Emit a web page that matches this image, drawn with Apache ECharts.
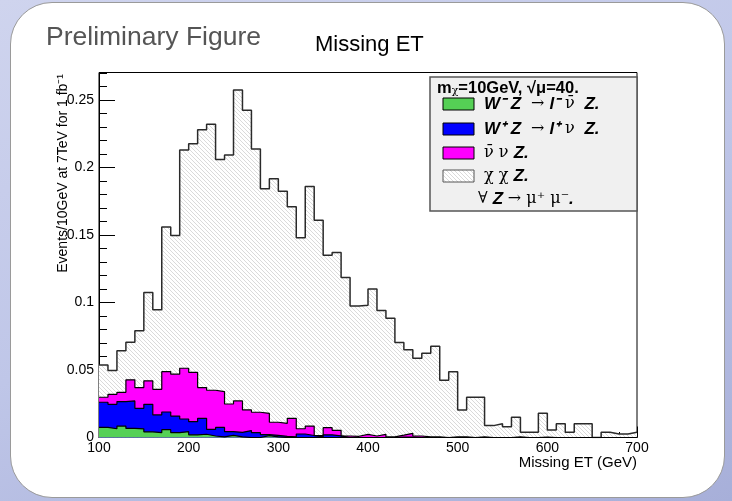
<!DOCTYPE html>
<html>
<head>
<meta charset="utf-8">
<script src="https://cdn.jsdelivr.net/npm/echarts@6/dist/echarts.min.js"></script>
<style>
html,body{margin:0;padding:0;}
#bg{position:absolute;left:0;top:0;width:732px;height:501px;background:linear-gradient(160deg,#cfd4ee 0%,#bfc6e8 50%,#a7afd9 100%);overflow:hidden;}
#panel{position:absolute;left:10px;top:2px;width:713px;height:494px;background:#fff;border:1px solid #9a9a9a;border-radius:42px;}
#chart{position:absolute;left:0;top:0;width:732px;height:501px;}
</style>
</head>
<body>
<div id="bg"><div id="panel"></div><div id="chart"></div></div>
<script>
// ---- data (events per 10 GeV bin, bins from 100 to 700 GeV) ----
const binLow = 100, binWidth = 10, nBins = 60;
const yTicks = [0, 0.05, 0.1, 0.15, 0.2, 0.25];
const xTicks = [100, 200, 300, 400, 500, 600, 700];

// W- Z -> l- nubar Z  (green)
const wmZ = [0.0075,0.0065,0.0085,0.0067,0.0064,0.0042,0.0036,0.0058,0.0036,0.0043,
             0.0020,0.0024,0.0011,0.0004,0.0016,0.0004,0,0,0.0014,0.0004,
             0,0,0,0,0,0,0,0,0,0, 0,0,0,0,0,0,0,0,0,0,
             0,0,0,0,0,0,0,0,0,0, 0,0,0,0,0,0,0,0,0,0];
// W+ Z -> l+ nu Z  (blue)
const wpZ = [0.0186,0.0181,0.0181,0.0204,0.0152,0.0204,0.0131,0.0131,0.0123,0.0094,
             0.0097,0.0118,0.0049,0.0071,0.0027,0.0034,0.0051,0.0036,0.0007,0.0012,
             0.0009,0.0004,0.0026,0.0015,0.0005,0.0020,0.0012,0,0,0,
             0,0,0,0.0003,0.0003,0,0,0,0,0, 0,0,0,0,0,0,0,0,0,0, 0,0,0,0,0,0,0,0,0,0];
// nubar nu Z  (magenta)
const nunuZ = [0.0037,0.0074,0.0069,0.0156,0.0154,0.0174,0.0190,0.0299,0.0310,0.0376,
               0.0366,0.0228,0.0290,0.0265,0.0205,0.0233,0.0153,0.0151,0.0158,0.0097,
               0.0096,0.0138,0.0039,0.0070,0.0009,0.0053,0.0041,0.0011,0.0009,0.0023,
               0.0011,0.0023,0.0004,0.0014,0.0028,0.0011,0.0004,0.0004,0,0.0004,
               0.0004,0,0.0004,0,0,0,0.0004,0,0,0.0003, 0,0,0,0,0,0,0,0,0,0];
// chi chi Z  (hatched)
const chichiZ = [0.0240,0.0176,0.0307,0.0279,0.0420,0.0654,0.0589,0.1072,0.1028,0.1617,
                 0.1694,0.1909,0.1970,0.1720,0.1845,0.2304,0.2221,0.1951,0.1664,0.1804,
                 0.1719,0.1568,0.1415,0.1775,0.1596,0.1277,0.1317,0.1175,0.0966,0.0957,
                 0.1089,0.0917,0.0880,0.0686,0.0619,0.0576,0.0620,0.0672,0.0424,0.0484,
                 0.0200,0.0298,0.0294,0.0088,0.0102,0.0080,0.0146,0.0039,0.0039,0.0177,
                 0.0056,0.0102,0.0039,0.0102,0.0102,0,0.0039,0.0026,0.0026,0.0039];

// ---- helpers ----
const edges = [];
for (let i = 0; i <= nBins; i++) edges.push(binLow + i * binWidth);
// cumulative stack (THStack style): each layer drawn from zero, top layer first
function cumulate(list){
  return list[0].map((_, i) => list.reduce((s, a) => s + a[i], 0));
}
const stackGreen = cumulate([wmZ]);
const stackBlue = cumulate([wmZ, wpZ]);
const stackMag = cumulate([wmZ, wpZ, nunuZ]);
const stackAll = cumulate([wmZ, wpZ, nunuZ, chichiZ]);

function steps(vals){
  const d = vals.map((v,i)=>[edges[i], v]);
  d.push([edges[nBins], vals[nBins-1]]);
  return d;
}
function hatchCanvas(bg){
  const s = 4, c = document.createElement('canvas');
  c.width = s; c.height = s;
  const g = c.getContext('2d');
  g.fillStyle = bg; g.fillRect(0,0,s,s);
  g.strokeStyle = '#d6d6d6'; g.lineWidth = 0.9;
  g.beginPath();
  g.moveTo(-s,0); g.lineTo(s,2*s);
  g.moveTo(0,0); g.lineTo(s,s);
  g.moveTo(0,-s); g.lineTo(2*s,s);
  g.stroke();
  return c;
}
const hatch = {image: hatchCanvas('#ffffff'), repeat:'repeat'};

const chart = echarts.init(document.getElementById('chart'), null, {renderer:'canvas'});
const FONT = '"Liberation Sans", Arial, sans-serif';
const SYM = '"DejaVu Serif", "Liberation Serif", serif';

function mkSeries(name, vals, fill, lineColor, lw){
  return {
    name, type:'line', step:'end', symbol:'none', animation:false,
    data: steps(vals),
    lineStyle:{color:lineColor, width:lw},
    areaStyle:{color:fill, opacity:1, origin:'start'},
    emphasis:{disabled:true}
  };
}

const legendX = 430, legendY = 77, legendW = 207, legendH = 134;
const rowY = [104, 129, 153, 176, 199];
const richBase = {
  b:{fontFamily:FONT, fontWeight:'bold', fontStyle:'italic', fontSize:17, fill:'#000'},
  s:{fontFamily:SYM, fontSize:16, fill:'#000'}
};

chart.setOption({
  backgroundColor:'transparent',
  animation:false,
  grid:{left:99, right:95, top:72.5, bottom:63.5, show:true, borderColor:'#000', borderWidth:1, backgroundColor:'#fff'},
  xAxis:{
    type:'value', min:xTicks[0], max:xTicks[xTicks.length-1], interval:100,
    axisLine:{onZero:false, lineStyle:{color:'#000', width:1}},
    axisTick:{inside:true, length:11, lineStyle:{color:'#000', width:1}},
    minorTick:{show:true, splitNumber:5, length:5.5, lineStyle:{color:'#000', width:1}},
    splitLine:{show:false},
    axisLabel:{fontFamily:FONT, fontSize:14, color:'#000', margin:4}
  },
  yAxis:{
    type:'value', min:0, max:0.2704, interval:0.05,
    axisLine:{lineStyle:{color:'#000', width:1}},
    axisTick:{inside:true, length:16, lineStyle:{color:'#000', width:1}},
    minorTick:{show:true, splitNumber:5, length:8, lineStyle:{color:'#000', width:1}},
    splitLine:{show:false},
    axisLabel:{fontFamily:FONT, fontSize:14, color:'#000', margin:5, showMaxLabel:false,
      formatter: v => yTicks.some(t => Math.abs(t - v) < 1e-9) ? String(+v.toFixed(2)) : ''}
  },
  series:[
    mkSeries('chi chi Z', stackAll, hatch, '#2a2a2a', 1.5),
    mkSeries('nubar nu Z', stackMag, '#ff00ff', '#000', 1.2),
    mkSeries('W+ Z', stackBlue, '#0000ff', '#000', 1.2),
    mkSeries('W- Z', stackGreen, '#55d055', '#000', 1.2)
  ],
  graphic:[
    {type:'text', x:46, y:38, style:{text:'Preliminary Figure', font:'26.5px '+FONT, fill:'#555', textVerticalAlign:'middle'}},
    {type:'text', x:315, y:45, style:{text:'Missing ET', font:'22px '+FONT, fill:'#000', textVerticalAlign:'middle'}},
    {type:'text', x:637, y:463, style:{text:'Missing ET (GeV)', font:'15px '+FONT, fill:'#000', textAlign:'right', textVerticalAlign:'middle'}},
    {type:'text', x:63, y:74, rotation:Math.PI/2, style:{text:'Events/10GeV at 7TeV for 1 fb\u207B\u00B9', font:'14px '+FONT, fill:'#000', textAlign:'right', textVerticalAlign:'middle'}},
    // legend
    {type:'rect', shape:{x:legendX, y:legendY, width:legendW, height:legendH}, style:{fill:'#f0f0f0', stroke:'#555', lineWidth:1.5}, z:10},
    {type:'text', x:437, y:88, z:11, style:{
      text:'{m|m}{sub|χ}{m|=10GeV, √μ=40.}',
      rich:{m:{fontFamily:FONT, fontWeight:'bold', fontSize:16.5, fill:'#000'}, sub:{fontFamily:SYM, fontSize:11, fill:'#000', verticalAlign:'bottom', padding:[7,0,0,0]}},
      textVerticalAlign:'middle'}},
    {type:'rect', z:11, shape:{x:443, y:rowY[0]-6, width:31, height:12}, style:{fill:'#55d055', stroke:'#000', lineWidth:1}},
    {type:'rect', z:11, shape:{x:443, y:rowY[1]-6, width:31, height:12}, style:{fill:'#0000ff', stroke:'#000', lineWidth:1}},
    {type:'rect', z:11, shape:{x:443, y:rowY[2]-6, width:31, height:12}, style:{fill:'#ff00ff', stroke:'#000', lineWidth:1}},
    {type:'rect', z:11, shape:{x:443, y:rowY[3]-6, width:31, height:12}, style:{fill:hatch, stroke:'#555', lineWidth:1}},
    {type:'text', x:484, y:rowY[0], z:11, style:{text:'{b|W⁻ Z }{s| → }{b|l⁻ }{s|ν̄ }{b| Z.}', rich:richBase, textVerticalAlign:'middle'}},
    {type:'text', x:484, y:rowY[1], z:11, style:{text:'{b|W⁺ Z }{s| → }{b|l⁺ }{s|ν }{b| Z.}', rich:richBase, textVerticalAlign:'middle'}},
    {type:'text', x:484, y:rowY[2], z:11, style:{text:'{s|ν̄ ν }{b|Z.}', rich:richBase, textVerticalAlign:'middle'}},
    {type:'text', x:484, y:rowY[3], z:11, style:{text:'{s|χ χ }{b|Z.}', rich:richBase, textVerticalAlign:'middle'}},
    {type:'text', x:478, y:rowY[4], z:11, style:{text:'{s|∀ }{b|Z }{s|→ μ⁺ μ⁻}{b|.}', rich:richBase, textVerticalAlign:'middle'}}
  ]
});
</script>
</body>
</html>
